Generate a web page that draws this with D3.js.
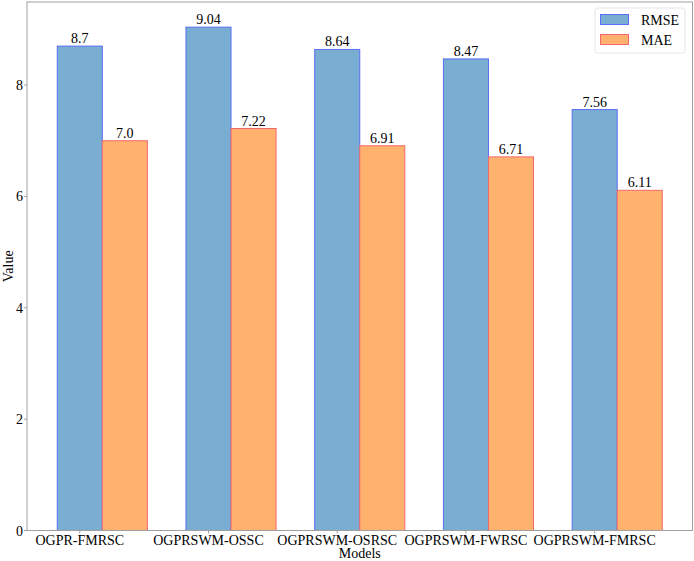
<!DOCTYPE html>
<html><head><meta charset="utf-8">
<script src="https://cdn.jsdelivr.net/npm/d3@7"></script>
<style>body{margin:0;background:#fff}svg{display:block}text{font-family:"Liberation Serif","Times New Roman",serif}</style>
</head><body><svg id="c" width="694" height="561"></svg>
<script>
const models = ["OGPR-FMRSC","OGPRSWM-OSSC","OGPRSWM-OSRSC","OGPRSWM-FWRSC","OGPRSWM-FMRSC"];
const rmse = [8.7, 9.04, 8.64, 8.47, 7.56];
const mae = [7.0, 7.22, 6.91, 6.71, 6.11];
const rmseLabels = ["8.7","9.04","8.64","8.47","7.56"];
const maeLabels = ["7.0","7.22","6.91","6.71","6.11"];
const yTicks = [0,2,4,6,8];
const seriesNames = ["RMSE","MAE"];

const svg = d3.select("#c");
const L=27, R=692.5, T=2, B=530.5;
const bw = 0.35;
const FS = 14;
const x = d3.scaleLinear().domain([-0.175-0.235, 4+bw+0.175+0.235]).range([L,R]);
const y = d3.scaleLinear().domain([0, 9.04*1.05]).range([B,T]);
const fills = ["#79add2","#ffb26e"], strokes=["#5b6ef5","#f5666a"];

const series=[rmse, mae], labs=[rmseLabels, maeLabels];
series.forEach((s,k)=>{
  const g = svg.append("g");
  s.forEach((v,i)=>{
    const c = i + k*bw;
    const x0=x(c-bw/2), x1=x(c+bw/2);
    g.append("rect").attr("x",x0).attr("y",y(v)).attr("width",x1-x0).attr("height",y(0)-y(v))
      .attr("fill",fills[k]).attr("stroke",strokes[k]).attr("stroke-width",1);
    g.append("text").attr("x",(x0+x1)/2).attr("y",y(v)-3).attr("text-anchor","middle")
      .attr("font-size",FS).attr("fill","#000").text(labs[k][i]);
  });
});

// frame
svg.append("rect").attr("x",L).attr("y",T).attr("width",R-L).attr("height",B-T)
  .attr("fill","none").attr("stroke","#a0a0a0").attr("stroke-width",1);

// y axis ticks
yTicks.forEach(t=>{
  svg.append("line").attr("x1",L-3).attr("x2",L).attr("y1",y(t)).attr("y2",y(t)).attr("stroke","#a0a0a0");
  svg.append("text").attr("x",L-4).attr("y",y(t)+5).attr("text-anchor","end").attr("font-size",FS).text(t);
});
// x ticks
models.forEach((m,i)=>{
  svg.append("line").attr("x1",x(i)).attr("x2",x(i)).attr("y1",B).attr("y2",B+3).attr("stroke","#a0a0a0");
  svg.append("text").attr("x",x(i)).attr("y",B+14).attr("text-anchor","middle").attr("font-size",FS).text(m);
});
svg.append("text").attr("x",(L+R)/2).attr("y",B+27.5).attr("text-anchor","middle").attr("font-size",FS).text("Models");
svg.append("text").attr("transform",`translate(12.5,${(T+B)/2}) rotate(-90)`).attr("text-anchor","middle").attr("font-size",FS).text("Value");

// legend
const lg = svg.append("g");
lg.append("rect").attr("x",595).attr("y",8).attr("width",90).attr("height",45).attr("rx",3)
  .attr("fill","#fff").attr("stroke","#e6e6e6");
seriesNames.forEach((n,k)=>{
  lg.append("rect").attr("x",600.5).attr("y",14.5+k*20).attr("width",28).attr("height",10)
    .attr("fill",fills[k]).attr("stroke",strokes[k]);
  lg.append("text").attr("x",641).attr("y",24.5+k*20).attr("font-size",FS).text(n);
});
</script></body></html>
